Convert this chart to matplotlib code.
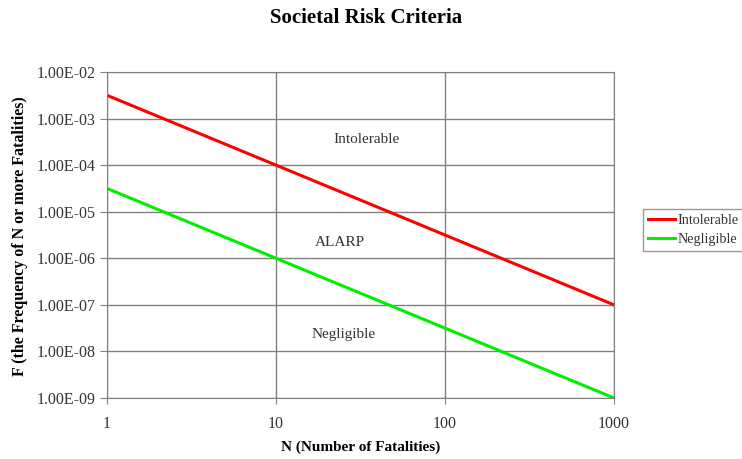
import numpy as np
import matplotlib
matplotlib.use("Agg")
import matplotlib.pyplot as plt
from matplotlib.ticker import FuncFormatter, FixedLocator

plt.rcParams['font.family'] = ['Liberation Serif', 'DejaVu Serif']

# data
n_fatalities = [1, 10, 100, 1000]
intolerable = [3.16e-3, 1e-4, 3.16e-6, 1e-7]
negligible = [3.16e-5, 1e-6, 3.16e-8, 1e-9]
region_labels = ["Intolerable", "ALARP", "Negligible"]
region_x = [34.5, 24, 25]
region_y = [3.5e-4, 2.2e-6, 2.3e-8]

fig = plt.figure(figsize=(7.42, 4.59), dpi=100)
ax = fig.add_axes([107/742, 1-398/459, (614-107)/742, (398-72)/459])

ax.plot(n_fatalities, intolerable, color='#ff0000', lw=2.2, label='Intolerable')
ax.plot(n_fatalities, negligible, color='#00ee00', lw=2.2, label='Negligible')

ax.set_xscale('log')
ax.set_yscale('log')
ax.set_xlim(1, 1000)
ax.set_ylim(1e-9, 1e-2)

ax.xaxis.set_major_locator(FixedLocator([1, 10, 100, 1000]))
ax.yaxis.set_major_locator(FixedLocator([10.0**k for k in range(-9, -1)]))
ax.xaxis.set_minor_locator(FixedLocator([]))
ax.yaxis.set_minor_locator(FixedLocator([]))
ax.xaxis.set_major_formatter(FuncFormatter(lambda v, p: "%d" % round(v)))
ax.yaxis.set_major_formatter(FuncFormatter(lambda v, p: "%.2E" % v))

ax.grid(True, color='#808080', lw=1)
for s in ax.spines.values():
    s.set_color('#808080')
ax.tick_params(axis='y', direction='out', length=5, color='#808080', labelsize=11.5,
               pad=3, labelcolor='#333333')
ax.tick_params(axis='x', direction='inout', length=8, color='#808080', labelsize=11.5,
               pad=9, labelcolor='#333333')

for lab, x, y in zip(region_labels, region_x, region_y):
    ax.text(x, y, lab, ha='center', va='center', fontsize=11, color='#333333')

fig.text(366/742, 1-18/459, "Societal Risk Criteria", ha='center', va='center',
         fontsize=15, fontweight='bold')
fig.text(361/742, 1-447/459, "N (Number of Fatalities)", ha='center', va='center',
         fontsize=11, fontweight='bold')
fig.text(20/742, 1-236/459, "F (the Frequency of N or more Fatalities)", ha='center',
         va='center', rotation=90, fontsize=11.5, fontweight='bold')

leg = fig.legend(loc='upper left', bbox_to_anchor=(643/742, 1-209/459), fontsize=10.2,
                 frameon=True, fancybox=False, edgecolor='#808080', handlelength=1.9,
                 handletextpad=0.2, borderpad=0.35, labelspacing=0.45, borderaxespad=0)
leg.get_frame().set_linewidth(1)
for t in leg.get_texts():
    t.set_color('#333333')

fig.savefig("out.png", dpi=100)
